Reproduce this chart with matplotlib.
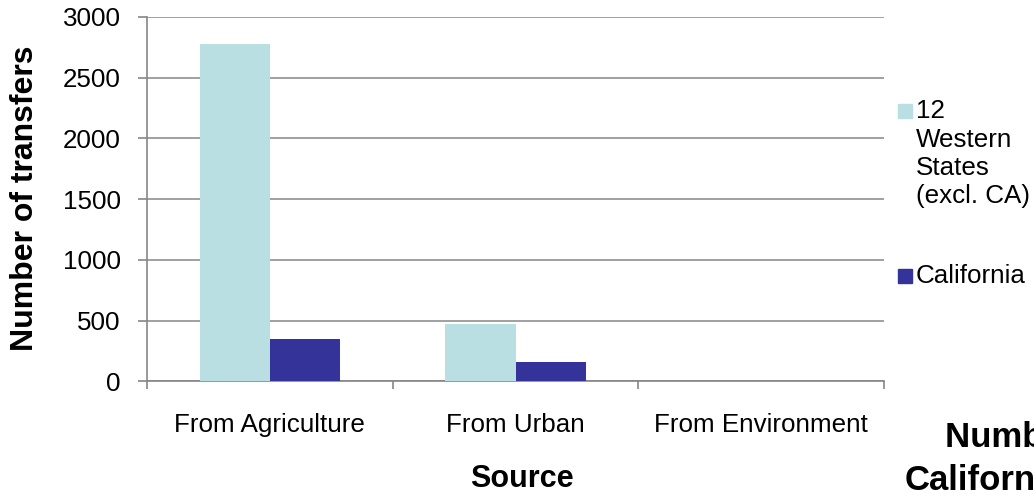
import matplotlib
matplotlib.use("Agg")
import matplotlib.pyplot as plt
from matplotlib.patches import Rectangle
import numpy as np

plt.rcParams["font.family"] = ["Liberation Sans", "DejaVu Sans"]

# Data
categories = ["From Agriculture", "From Urban", "From Environment"]
western_states = [2780, 475, 0]
california = [350, 160, 0]
series_labels = ["12\nWestern\nStates\n(excl. CA)", "California"]
series_colors = ["#B9DFE3", "#333399"]
y_ticks = [0, 500, 1000, 1500, 2000, 2500, 3000]

W, H = 1034, 496
fig = plt.figure(figsize=(W / 100, H / 100), dpi=100)


def fx(px):
    return px / W


def fy(py):
    return 1 - py / H


ax_left, ax_right, ax_top, ax_bottom = 147, 884, 17, 381.3
ax = fig.add_axes([fx(ax_left), fy(ax_bottom), fx(ax_right - ax_left),
                   (ax_bottom - ax_top) / H])

grey = "#868686"
x = np.arange(len(categories))
bw = 0.285
ax.bar(x - bw / 2, western_states, bw, color=series_colors[0], zorder=3)
ax.bar(x + bw / 2, california, bw, color=series_colors[1], zorder=3)

ax.set_xlim(-0.5, len(categories) - 0.5)
ax.set_ylim(0, 3000)
ax.set_yticks(y_ticks)
ax.set_yticklabels([str(v) for v in y_ticks])

# category boundary ticks, labels centered between them
ax.set_xticks(np.arange(len(categories) + 1) - 0.5)
ax.set_xticklabels([])
ax.set_xticks(x, minor=True)
ax.set_xticklabels(categories, minor=True)
ax.tick_params(axis="x", which="major", length=6, width=1.2, color=grey)
ax.tick_params(axis="x", which="minor", length=0, pad=22.5, labelsize=18.7)
ax.tick_params(axis="y", which="major", length=6.5, width=1.2, color=grey,
               pad=12.5, labelsize=18.7)

ax.yaxis.grid(True, color=grey, linewidth=1.1, zorder=0)
ax.set_axisbelow(True)
for side in ("top", "right"):
    ax.spines[side].set_visible(False)
for side in ("left", "bottom"):
    ax.spines[side].set_color(grey)
    ax.spines[side].set_linewidth(1.2)

# axis titles
fig.text(fx(25), fy(198), "Number of transfers", rotation=90, ha="center",
         va="center", fontsize=23, fontweight="bold")
fig.text(fx(522), fy(479), "Source", ha="center", va="center",
         fontsize=22, fontweight="bold")

# legend: square key beside the first line of each entry
sq = 14
first_baselines = [118.4, 283.3]
pitch = 28.3
for base, label, color in zip(first_baselines, series_labels, series_colors):
    fig.patches.append(Rectangle((fx(898), fy(base)), fx(sq), sq / H,
                                 transform=fig.transFigure, color=color))
    for i, line in enumerate(label.split("\n")):
        fig.text(fx(916), fy(base + i * pitch), line, ha="left",
                 va="baseline", fontsize=18.7)

# chart title, running past the right edge
fig.text(fx(945), fy(447), "Number of", ha="left", va="baseline",
         fontsize=25, fontweight="bold")
fig.text(fx(905), fy(490), "California", ha="left", va="baseline",
         fontsize=25, fontweight="bold")

fig.savefig("out.png", dpi=100)
